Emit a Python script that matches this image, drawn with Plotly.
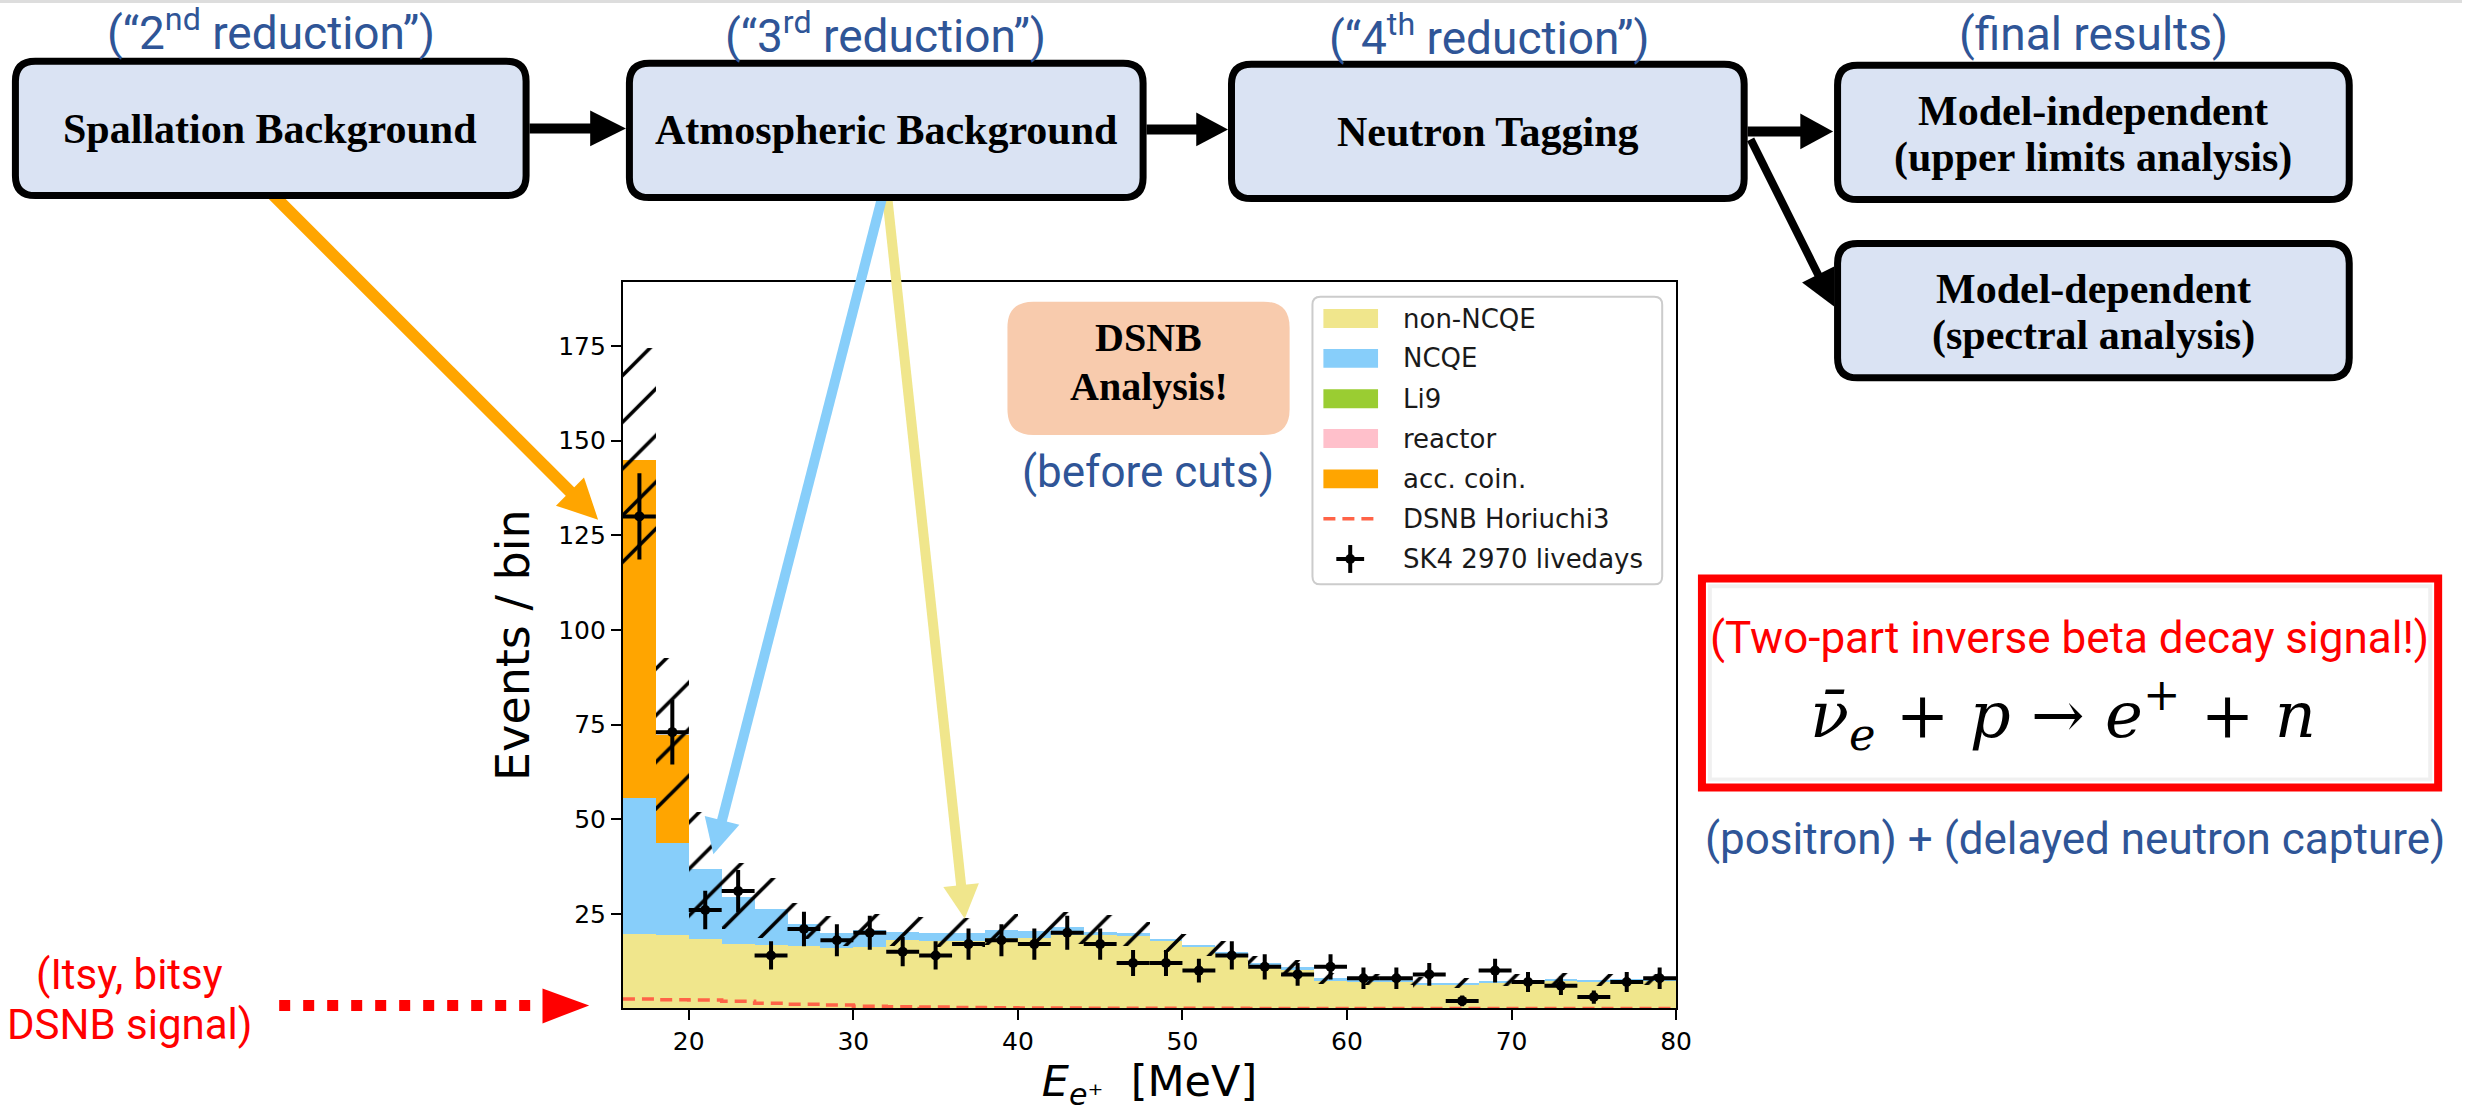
import math
import plotly.graph_objects as go

W, H = 2478, 1112

# ---------------- data ----------------
bin_edges = [16, 18, 20, 22, 24, 26, 28, 30, 32, 34, 36, 38, 40, 42, 44, 46, 48,
             50, 52, 54, 56, 58, 60, 62, 64, 66, 68, 70, 72, 74, 76, 78, 80]

non_ncqe = [19.7, 19.6, 18.5, 17.2, 16.9, 16.6, 16.1, 16.4, 18.1, 17.9, 17.9, 18.7,
            18.6, 19.6, 19.5, 19.3, 17.8, 16.3, 14.5, 11.4, 10.3, 7.3, 7.1, 7.1,
            6.2, 6.2, 6.9, 7.2, 7.4, 7.2, 7.4, 7.4]
ncqe = [36.0, 24.3, 18.3, 12.4, 9.5, 5.8, 4.0, 4.4, 2.1, 2.2, 2.0, 2.1, 1.9, 2.0,
        0.9, 0.8, 0.6, 0.6, 0.6, 0.7, 0.7, 0.7, 0.6, 0.6, 0.6, 0.6, 0.5, 0.4, 0.5,
        0.4, 0.4, 0.3]
li9 = [0.0] * 32
reactor = [0.0] * 32
acc_coin = [89.3, 28.5, 0, 0, 0, 0, 0, 0, 0, 0, 0, 0, 0, 0, 0, 0, 0, 0, 0, 0, 0, 0,
            0, 0, 0, 0, 0, 0, 0, 0, 0, 0]

sys_low = [116, 52.3, 21.6, 21.0, 18.7, 18.5, 16.5, 16.8, 16.5, 16.3, 16.2, 16.8,
           16.5, 17.0, 16.8, 16.5, 15.1, 13.8, 12.6, 10.4, 8.6, 6.6, 6.3, 6.3, 5.5,
           5.6, 5.9, 6.2, 6.2, 6.1, 6.3, 6.3]
sys_high = [174.5, 92.6, 52.0, 38.5, 34.5, 27.8, 24.5, 25.0, 24.5, 24.3, 24.0, 25.0,
            24.5, 25.5, 24.8, 22.8, 21.5, 19.8, 17.8, 14.0, 12.8, 9.5, 9.2, 9.2, 8.3,
            8.2, 9.0, 9.2, 9.4, 9.2, 9.3, 9.2]

dsnb_horiuchi3 = [2.5, 2.3, 2.2, 1.9, 1.4, 1.1, 0.9, 0.6, 0.45, 0.35, 0.25, 0.18,
                  0.12, 0.09, 0.06, 0.04, 0.03, 0.02, 0.02, 0.01, 0.01, 0.01, 0.0,
                  0.0, 0.0, 0.0, 0.0, 0.0, 0.0, 0.0, 0.0, 0.0]

sk4_counts = [130, 73, 26, 31, 14, 21, 18, 20, 15, 14, 17, 18, 17, 20, 17, 12, 12,
              10, 14, 11, 9, 11, 8, 8, 9, 2, 10, 7, 6, 3, 7, 8]
sk4_err = [11.4, 8.54, 5.10, 5.57, 3.74, 4.58, 4.24, 4.47, 3.87, 3.74, 4.12, 4.24,
           4.12, 4.47, 4.12, 3.46, 3.46, 3.16, 3.74, 3.32, 3.0, 3.32, 2.83, 2.83,
           3.0, 1.41, 3.16, 2.65, 2.45, 1.73, 2.65, 2.83]

x_ticks = [20, 30, 40, 50, 60, 70, 80]
y_ticks = [25, 50, 75, 100, 125, 150, 175]

stack_names = ["non-NCQE", "NCQE", "Li9", "reactor", "acc. coin."]
stack_colors = ["#F0E68C", "#87CEFA", "#9ACD32", "#FFC0CB", "#FFA500"]
stack_vals = [non_ncqe, ncqe, li9, reactor, acc_coin]
dsnb_name, dsnb_color = "DSNB Horiuchi3", "#FF6347"
data_name = "SK4 2970 livedays"

centers = [(a + b) / 2 for a, b in zip(bin_edges[:-1], bin_edges[1:])]
widths = [b - a for a, b in zip(bin_edges[:-1], bin_edges[1:])]
half_w = [w / 2 for w in widths]

# ---------------- traces ----------------
fig = go.Figure()
for name, vals, col in zip(stack_names, stack_vals, stack_colors):
    fig.add_trace(go.Bar(x=centers, y=vals, width=widths, name=name,
                         marker=dict(color=col, line=dict(width=0)), showlegend=False))

fig.add_trace(go.Bar(
    x=centers, y=[h - l for h, l in zip(sys_high, sys_low)], base=sys_low, width=widths,
    name="sys", showlegend=False,
    marker=dict(color="black", line=dict(width=0),
                pattern=dict(shape="/", size=33, solidity=0.11, fillmode="replace"))))

fig.add_trace(go.Scatter(
    x=bin_edges, y=dsnb_horiuchi3 + [dsnb_horiuchi3[-1]], mode="lines", name=dsnb_name,
    line=dict(shape="hv", color=dsnb_color, width=3.5, dash="12px,7px"), showlegend=False))

fig.add_trace(go.Scatter(
    x=centers, y=sk4_counts, mode="markers", name=data_name, showlegend=False,
    marker=dict(color="black", size=10),
    error_x=dict(type="data", array=half_w, color="black", thickness=4, width=0),
    error_y=dict(type="data", array=sk4_err, color="black", thickness=4, width=0)))

# ---------------- helpers for slide decorations ----------------
def P(x, y):
    return f"{x / W:.5f},{1 - y / H:.5f}"


def rrect(x0, y0, x1, y1, r, fill, lc=None, lw=0):
    path = (f"M{P(x0 + r, y0)} L{P(x1 - r, y0)} Q{P(x1, y0)} {P(x1, y0 + r)} "
            f"L{P(x1, y1 - r)} Q{P(x1, y1)} {P(x1 - r, y1)} L{P(x0 + r, y1)} "
            f"Q{P(x0, y1)} {P(x0, y1 - r)} L{P(x0, y0 + r)} Q{P(x0, y0)} {P(x0 + r, y0)} Z")
    return dict(type="path", path=path, xref="paper", yref="paper", fillcolor=fill,
                line=dict(color=lc if lc else "rgba(0,0,0,0)", width=lw), layer="above")


def arrow(x0, y0, x1, y1, w, hl, hw, color, dash=None):
    dx, dy = x1 - x0, y1 - y0
    L = math.hypot(dx, dy)
    ux, uy = dx / L, dy / L
    nx, ny = -uy, ux
    bx, by = x1 - ux * hl, y1 - uy * hl
    ln = dict(type="line", xref="paper", yref="paper", x0=x0 / W, y0=1 - y0 / H,
              x1=(bx + ux) / W, y1=1 - (by + uy) / H,
              line=dict(color=color, width=w, dash=dash) if dash else dict(color=color, width=w),
              layer="above")
    head = dict(type="path", xref="paper", yref="paper",
                path=f"M{P(x1, y1)} L{P(bx + nx * hw / 2, by + ny * hw / 2)} "
                     f"L{P(bx - nx * hw / 2, by - ny * hw / 2)} Z",
                fillcolor=color, line=dict(color=color, width=0), layer="above")
    return [ln, head]


def hline(x0, y0, x1, y1, color, w, dash=None):
    d = dict(color=color, width=w)
    if dash:
        d["dash"] = dash
    return dict(type="line", xref="paper", yref="paper", x0=x0 / W, y0=1 - y0 / H,
                x1=x1 / W, y1=1 - y1 / H, line=d, layer="above")


def rect(x0, y0, x1, y1, fill, lc=None, lw=0):
    return dict(type="rect", xref="paper", yref="paper", x0=x0 / W, y0=1 - y1 / H,
                x1=x1 / W, y1=1 - y0 / H, fillcolor=fill,
                line=dict(color=lc if lc else "rgba(0,0,0,0)", width=lw), layer="above")


shapes = []
# thin grey strip at the top of the slide
shapes.append(rect(0, 0, W, 3, "#DDDDDD"))

# coloured arrows from boxes into the plot
shapes += arrow(275, 196, 602, 522, 12, 40, 40, "#FFA500")
shapes += arrow(893, 198, 971, 923, 10, 34, 36, "#F0E68C")
shapes += arrow(888, 198, 718, 858, 10, 35, 36, "#87CEFA")

# flowchart boxes
box_fill = "#DAE3F3"
boxes = [(12, 58, 533, 200), (630, 60, 1154, 202), (1236, 61, 1759, 203),
         (1846, 62, 2368, 204), (1846, 241, 2368, 383)]
for (a, b, c, d) in boxes:
    shapes.append(rrect(a + 3.5, b + 3.5, c - 3.5, d - 3.5, 20, box_fill, "black", 7))

# black flow arrows
shapes += arrow(533, 129, 630, 129, 10, 36, 36, "black")
shapes += arrow(1154, 130, 1236, 130, 10, 32, 34, "black")
shapes += arrow(1759, 132, 1845, 132, 10, 33, 36, "black")
shapes += arrow(1762, 140, 1846, 308, 8, 36, 36, "black")

# red dotted arrow for the DSNB signal
shapes.append(hline(281, 1010, 548, 1010, "#FF0000", 11, "11px,13px"))
shapes.append(dict(type="path", xref="paper", yref="paper",
                   path=f"M{P(546, 993)} L{P(593, 1010)} L{P(546, 1028)} Z",
                   fillcolor="#FF0000", line=dict(color="#FF0000", width=0), layer="above"))

# DSNB Analysis box
shapes.append(rrect(1014, 303, 1298, 437, 26, "#F8CBAD"))

# red IBD box with a faint inner shadow
shapes.append(rect(1713, 581, 2454, 791, "white", "#FF0000", 8))
shapes.append(rect(1721, 589, 2446, 783, "rgba(0,0,0,0)", "rgba(0,0,0,0.06)", 4))

# manual legend (matplotlib style)
shapes.append(rrect(1321, 298, 1673, 587, 8, "rgba(255,255,255,0.85)", "#CCCCCC", 2))
row_y = [320, 360, 400.5, 440.5, 481, 521, 561.5]
for yy, col in zip(row_y[:5], stack_colors):
    shapes.append(rect(1332, yy - 9.5, 1387, yy + 9.5, col))
shapes.append(hline(1332, row_y[5], 1387, row_y[5], dsnb_color, 3.5, "12px,7px"))
shapes.append(hline(1345, row_y[6], 1373, row_y[6], "black", 4))
shapes.append(hline(1359, row_y[6] - 14, 1359, row_y[6] + 14, "black", 4))
shapes.append(dict(type="circle", xref="paper", yref="paper",
                   x0=1354 / W, x1=1364 / W, y0=1 - (row_y[6] + 5) / H, y1=1 - (row_y[6] - 5) / H,
                   fillcolor="black", line=dict(color="black", width=0), layer="above"))

# ---------------- annotations ----------------
ann = []


def text(x, y, s, size, color, family, xanchor="center"):
    ann.append(dict(x=x / W, y=1 - y / H, xref="paper", yref="paper", text=s,
                    showarrow=False, xanchor=xanchor, yanchor="middle",
                    font=dict(size=size, color=color, family=family)))


blue = "#2F5597"
sans = "Roboto"
serif = "Liberation Serif"
text(273, 30, "(“2<sup>nd</sup> reduction”)", 46, blue, sans)
text(891, 33, "(“3<sup>rd</sup> reduction”)", 46, blue, sans)
text(1499, 35, "(“4<sup>th</sup> reduction”)", 46, blue, sans)
text(2107, 34, "(final results)", 46, blue, sans)

text(272, 130, "<b>Spallation Background</b>", 42, "black", serif)
text(892, 131, "<b>Atmospheric Background</b>", 42, "black", serif)
text(1498, 133, "<b>Neutron Tagging</b>", 42, "black", serif)
text(2107, 112, "<b>Model-independent</b>", 42, "black", serif)
text(2107, 158, "<b>(upper limits analysis)</b>", 42, "black", serif)
text(2107, 290, "<b>Model-dependent</b>", 42, "black", serif)
text(2107, 337, "<b>(spectral analysis)</b>", 42, "black", serif)

text(1156, 339, "<b>DSNB</b>", 40, "black", serif)
text(1156, 388, "<b>Analysis!</b>", 40, "black", serif)
text(1155, 474, "(before cuts)", 44, blue, sans)

text(130, 979, "(Itsy, bitsy", 42, "#FF0000", sans)
text(130, 1029, "DSNB signal)", 42, "#FF0000", sans)

text(2083, 641, "(Two-part inverse beta decay signal!)", 44, "#FF0000", sans)
text(2076, 718, "<i>ν̄</i><sub><i>e</i></sub> + <i>p</i> → <i>e</i><sup>+</sup> + <i>n</i>",
     64, "black", "DejaVu Serif")
text(2088, 843, "(positron) + (delayed neutron capture)", 44, blue, sans)

legend_labels = stack_names + [dsnb_name, data_name]
for yy, lab in zip(row_y, legend_labels):
    text(1410, yy, lab, 26, "#1a1a1a", "DejaVu Sans", xanchor="left")

# ---------------- layout ----------------
axis_common = dict(ticks="outside", ticklen=10, tickwidth=2, tickcolor="black",
                   showline=True, linecolor="black", linewidth=2, mirror=True,
                   showgrid=False, zeroline=False,
                   tickfont=dict(family="DejaVu Sans", size=25, color="black"))

fig.update_layout(
    width=W, height=H, margin=dict(l=0, r=0, t=0, b=0),
    paper_bgcolor="white", plot_bgcolor="white",
    barmode="stack", bargap=0, showlegend=False,
    xaxis=dict(domain=[627 / W, 1687 / W], range=[16, 80], tickvals=x_ticks,
               title=dict(text="<i>E</i><sub><i>e</i>⁺</sub>  [MeV]",
                          font=dict(family="DejaVu Sans", size=43, color="black"),
                          standoff=25),
               **axis_common),
    yaxis=dict(domain=[1 - 1013 / H, 1 - 283 / H], range=[0, 192], tickvals=y_ticks,
               title=dict(text="Events / bin",
                          font=dict(family="DejaVu Sans", size=46, color="black"),
                          standoff=14),
               **axis_common),
    shapes=shapes, annotations=ann,
)

fig.write_html("out.html")
